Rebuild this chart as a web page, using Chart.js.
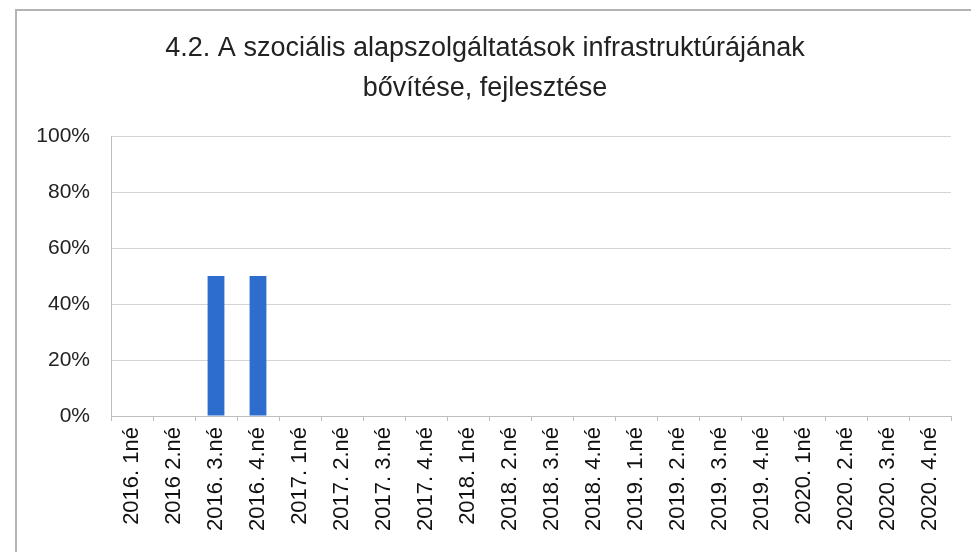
<!DOCTYPE html>
<html>
<head>
<meta charset="utf-8">
<script src="https://cdn.jsdelivr.net/npm/chart.js@4/dist/chart.umd.min.js"></script>
<style>
html,body{margin:0;padding:0;background:#fff;}
#wrap{position:relative;width:971px;height:552px;overflow:hidden;}
#frame{position:absolute;left:15px;top:9px;width:980px;height:560px;border-left:2px solid #b4b4b4;border-top:2px solid #b4b4b4;}
canvas{position:absolute;left:0;top:0;}
</style>
</head>
<body>
<div id="wrap">
<div id="frame"></div>
<canvas id="c" width="971" height="552"></canvas>
</div>
<script>
const categories = ["2016. 1né","2016 2.né","2016. 3.né","2016. 4.né","2017. 1né","2017. 2.né","2017. 3.né","2017. 4.né","2018. 1né","2018. 2.né","2018. 3.né","2018. 4.né","2019. 1.né","2019. 2.né","2019. 3.né","2019. 4.né","2020. 1né","2020. 2.né","2020. 3.né","2020. 4.né"];
const values = [0,0,50,50,0,0,0,0,0,0,0,0,0,0,0,0,0,0,0,0];
const titleLines = ["4.2. A szociális alapszolgáltatások infrastruktúrájának","bővítése, fejlesztése"];
const yTicks = [0,20,40,60,80,100];

new Chart(document.getElementById('c'), {
  type: 'bar',
  data: {
    labels: categories,
    datasets: [{
      data: values,
      backgroundColor: '#2c6dcd',
      borderWidth: 0,
      categoryPercentage: 1,
      barPercentage: 0.4
    }]
  },
  options: {
    responsive: false,
    animation: false,
    layout: { padding: { left: 19, right: 20, top: 0, bottom: 0 } },
    plugins: {
      legend: { display: false },
      tooltip: { enabled: false },
      title: {
        display: true,
        text: titleLines,
        color: '#222',
        font: { family: "'Liberation Sans', Arial", size: 27, weight: 'normal', lineHeight: 1.5 },
        padding: { top: 28, bottom: 27 }
      }
    },
    scales: {
      x: {
        grid: { display: true, drawOnChartArea: false, drawTicks: true, tickLength: 5, color: '#bdbdbd', offset: true },
        border: { display: true, color: '#bdbdbd' },
        ticks: {
          minRotation: 90, maxRotation: 90, autoSkip: false, padding: 6,
          color: '#111',
          font: { family: "'Liberation Sans', Arial", size: 22 }
        },
        afterFit: s => { s.height = 136; }
      },
      y: {
        min: 0, max: 100,
        afterBuildTicks: s => { s.ticks = yTicks.map(v => ({ value: v })); },
        grid: { color: '#d4d4d4', drawTicks: false },
        border: { display: true, color: '#bdbdbd' },
        ticks: {
          padding: 21,
          color: '#222',
          font: { family: "'Liberation Sans', Arial", size: 21 },
          callback: v => v + '%'
        },
        afterFit: s => { s.width = 92; }
      }
    }
  }
});
</script>
</body>
</html>
